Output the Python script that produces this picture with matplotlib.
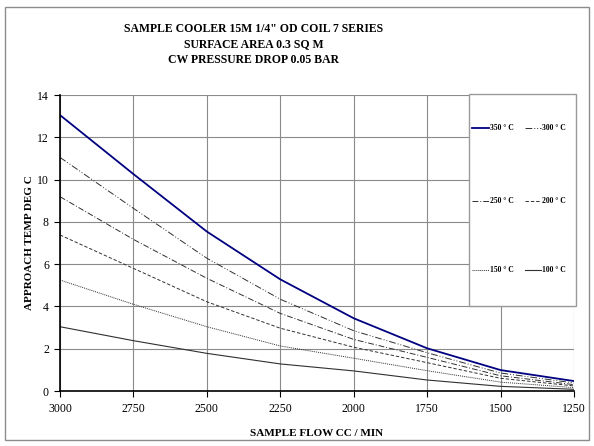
import matplotlib
matplotlib.use("Agg")
import matplotlib.pyplot as plt
from matplotlib.patches import Rectangle
from matplotlib.lines import Line2D

plt.rcParams['font.family'] = ['Liberation Serif', 'DejaVu Serif']

flow = [3000, 2750, 2500, 2250, 2000, 1750, 1500, 1250]
t350 = [13.05, 10.26, 7.54, 5.28, 3.44, 2.02, 0.99, 0.47]
t300 = [11.05, 8.64, 6.28, 4.34, 2.85, 1.81, 0.85, 0.38]
t250 = [9.19, 7.17, 5.33, 3.67, 2.44, 1.59, 0.72, 0.30]
t200 = [7.38, 5.80, 4.22, 2.97, 2.07, 1.34, 0.60, 0.24]
t150 = [5.25, 4.10, 3.04, 2.13, 1.55, 0.96, 0.42, 0.16]
t100 = [3.04, 2.38, 1.78, 1.28, 0.95, 0.52, 0.22, 0.08]
labels = ['350 ° C', '300 ° C', '250 ° C', '200 ° C', '150 ° C', '100 ° C']
xticks = [3000, 2750, 2500, 2250, 2000, 1750, 1500, 1250]
yticks = [0, 2, 4, 6, 8, 10, 12, 14]

W, H = 594, 446
fig = plt.figure(figsize=(W / 100, H / 100), dpi=100)
fig.patches.append(Rectangle((5 / W, 1 - 440 / H), 584 / W, 433 / H, transform=fig.transFigure,
                             fill=False, edgecolor='#8c8c8c', linewidth=1.0))

ax = fig.add_axes([60 / W, 1 - 391 / H, 514 / W, 296 / H])
g = '#303030'
styles = [
    dict(color='#000080', lw=1.3, ls='-'),
    dict(color=g, lw=0.7, ls=(0, (7, 2, 1, 2, 1, 2))),
    dict(color=g, lw=0.7, ls=(0, (6, 2, 1, 2))),
    dict(color=g, lw=0.7, ls=(0, (3.5, 2))),
    dict(color=g, lw=0.7, ls=(0, (1, 1))),
    dict(color=g, lw=0.8, ls='-'),
]
series = [t350, t300, t250, t200, t150, t100]
for s, st, lab in zip(series, styles, labels):
    ax.plot(flow, s, label=lab, **st)

ax.set_xlim(3000, 1250)
ax.set_ylim(0, 14)
ax.set_xticks(xticks)
ax.set_yticks(yticks)
ax.grid(True, color='#8a8a8a', linewidth=0.8)
ax.set_axisbelow(True)
for side in ['top', 'right']:
    ax.spines[side].set_visible(False)
ax.spines['left'].set_linewidth(1.2)
ax.spines['bottom'].set_linewidth(1.2)
ax.tick_params(axis='both', direction='out', length=4, width=0.8, labelsize=8.5, colors='black', pad=4)
ax.tick_params(axis='x', pad=5)

fig.text(30 / W, 1 - 243 / H, 'APPROACH TEMP DEG C', rotation=90, ha='center', va='center',
         fontsize=8, fontweight='bold')
fig.text(317 / W, 1 - 433 / H, 'SAMPLE FLOW CC / MIN', ha='center', va='center',
         fontsize=8, fontweight='bold')

title_lines = ['SAMPLE COOLER 15M 1/4" OD COIL 7 SERIES', 'SURFACE AREA 0.3 SQ M', 'CW PRESSURE DROP 0.05 BAR']
for i, line in enumerate(title_lines):
    fig.text(254 / W, 1 - (29 + 15.5 * i) / H, line, ha='center', va='center',
             fontsize=8.5, fontweight='bold')

# legend box (drawn manually to match the wide spacing of the original)
fig.add_artist(Rectangle((469 / W, 1 - 306 / H), 107 / W, 212 / H, transform=fig.transFigure,
                         facecolor='white', edgecolor='#9a9a9a', linewidth=1.0, zorder=5))
rows = [128, 201, 270]
cols = [(472, 489), (525, 541)]
for k, (st, lab) in enumerate(zip(styles, labels)):
    r, c = k // 2, k % 2
    y = 1 - rows[r] / H
    x0, x1 = cols[c]
    fig.add_artist(Line2D([x0 / W, x1 / W], [y, y], transform=fig.transFigure, zorder=6, **st))
    fig.text((x1 + 1) / W, y, lab, ha='left', va='center', fontsize=5.5, fontweight='bold', zorder=7)

fig.savefig('out.png', dpi=100)
